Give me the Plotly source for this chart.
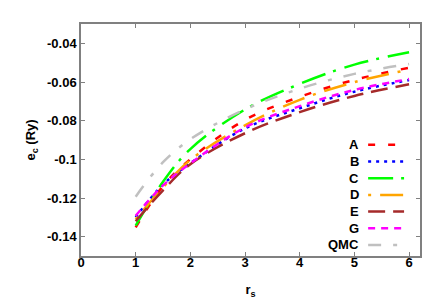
import plotly.graph_objects as go

rs = [1, 1.5, 2, 3, 4, 5, 6]
series_names = ["A", "B", "C", "D", "E", "G", "QMC"]
ec_A = [-0.1352, -0.1138, -0.0999, -0.0796, -0.0677, -0.0589, -0.0526]
ec_B = [-0.1300, -0.1130, -0.1020, -0.0840, -0.0736, -0.0650, -0.0590]
ec_C = [-0.1343, -0.1116, -0.0947, -0.0742, -0.0610, -0.0510, -0.0446]
ec_D = [-0.1310, -0.1145, -0.1003, -0.0824, -0.0692, -0.0601, -0.0536]
ec_E = [-0.1320, -0.1160, -0.1025, -0.0865, -0.0756, -0.0672, -0.0612]
ec_G = [-0.1292, -0.1135, -0.1021, -0.0835, -0.0725, -0.0641, -0.0585]
ec_QMC = [-0.1193, -0.1015, -0.0896, -0.0742, -0.0635, -0.0558, -0.0507]
series_values = [ec_A, ec_B, ec_C, ec_D, ec_E, ec_G, ec_QMC]

x_ticks = [0, 1, 2, 3, 4, 5, 6]
y_ticks = [-0.14, -0.12, -0.1, -0.08, -0.06, -0.04]
y_ticklabels = ["-0.14", "-0.12", "-0.1", "-0.08", "-0.06", "-0.04"]

colors = ["#ff0000", "#0000ff", "#00ff00", "#ffa500", "#a52a2a", "#ff00ff", "#c0c0c0"]
dashes = ["7px,13px", "3px,5px", "25px,8px,3px,9px", "3px,9px,23px,9px",
          "17px,8px", "7px,6px", "13px,12px,4px,12px"]

FONT = "Liberation Sans, Arial, sans-serif"
AXC = "#808080"
FS = 13

fig = go.Figure()
for name, vals, c, d in zip(series_names, series_values, colors, dashes):
    fig.add_trace(go.Scatter(x=rs, y=vals, mode="lines", name=name,
                             line=dict(color=c, width=2.5, dash=d, shape="spline"),
                             showlegend=False))

# manual gnuplot-style key: label right-aligned, sample to the right
key_top = 0.479
key_step = 0.0719
for i, (name, c, d) in enumerate(zip(series_names, colors, dashes)):
    yk = key_top - i * key_step
    fig.add_annotation(xref="paper", yref="paper", x=0.825, y=yk, text="<b>%s</b>" % name,
                       showarrow=False, xanchor="right", yanchor="middle",
                       font=dict(family=FONT, size=FS, color="black"))
    fig.add_shape(type="line", xref="paper", yref="paper", x0=0.847, x1=0.953, y0=yk, y1=yk,
                  line=dict(color=c, width=2.5, dash=d))

fig.update_layout(
    width=436, height=305,
    margin=dict(l=73, r=24, t=16, b=57),
    plot_bgcolor="white", paper_bgcolor="white",
    font=dict(family=FONT, size=FS, color="black"),
)
fig.update_xaxes(range=[0, 6.2], tickvals=x_ticks, ticktext=["<b>%d</b>" % v for v in x_ticks],
                 showgrid=False, zeroline=False, showline=True, linecolor=AXC, linewidth=1.5,
                 mirror="ticks", ticks="inside", ticklen=4, tickcolor=AXC, tickwidth=1,
                 ticklabelstandoff=-6, tickfont=dict(family=FONT, size=FS),
                 title=dict(text="<b>r<sub>s</sub></b>", standoff=16,
                            font=dict(family=FONT, size=FS)))
fig.update_yaxes(range=[-0.15, -0.03], tickvals=y_ticks,
                 ticktext=["<b>%s</b>" % t for t in y_ticklabels],
                 showgrid=False, zeroline=False, showline=True, linecolor=AXC, linewidth=1.5,
                 mirror="ticks", ticks="inside", ticklen=4, tickcolor=AXC, tickwidth=1,
                 tickfont=dict(family=FONT, size=FS),
                 title=dict(text="<b>e<sub>c</sub> (Ry)</b>", standoff=8,
                            font=dict(family=FONT, size=FS)))

fig.write_html("out.html")
